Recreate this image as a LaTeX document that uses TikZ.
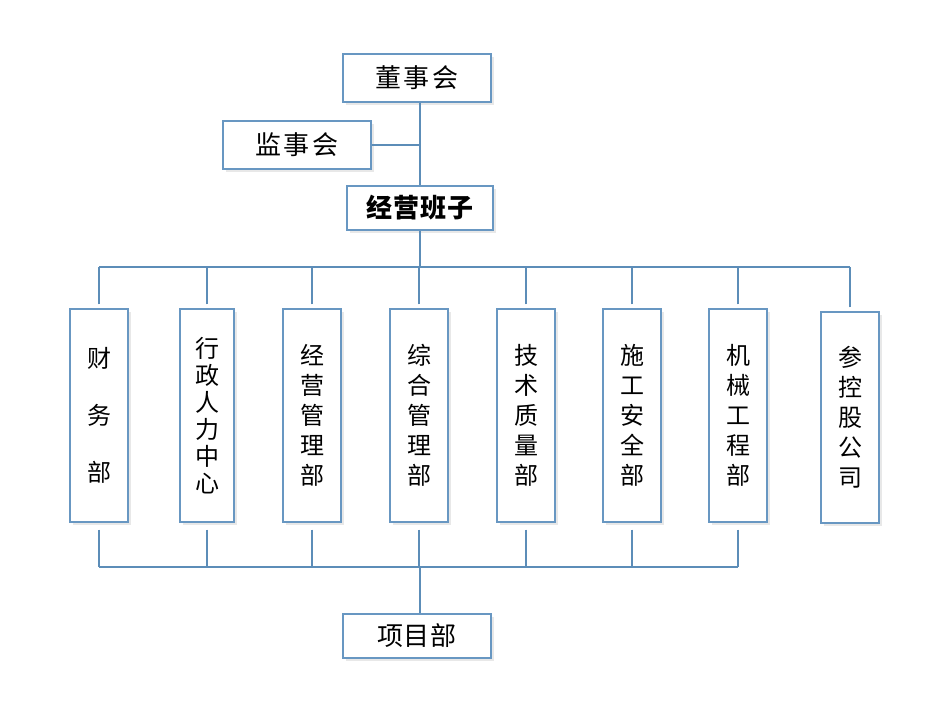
\documentclass[tikz,border=0pt]{standalone}
\usepackage{fontspec}
\newfontfamily\cjk{Noto Sans CJK SC}
\usetikzlibrary{shadows}
\definecolor{linec}{RGB}{92,141,184}
\definecolor{boxc}{RGB}{104,151,194}
\tikzset{
  conn/.style={draw=linec, line width=1.4pt},
  box/.style={draw=boxc, line width=1.2pt, fill=white, inner sep=0pt,
    drop shadow={opacity=0.15, shadow xshift=2.5pt, shadow yshift=-2.5pt, fill=black!60}},
  hbox/.style={box, font=\cjk\fontsize{26}{30}\selectfont},
  dept/.style={box, minimum width=58pt, minimum height=213pt, align=center},
}
\begin{document}
\begin{tikzpicture}[x=1pt,y=-1pt]
\useasboundingbox (0,0) rectangle (929,720);
% top boxes
\node[hbox, minimum width=148pt, minimum height=48pt] (dsh) at (417,78) {董\hspace{3pt}事\hspace{3pt}会};
\node[hbox, minimum width=148pt, minimum height=48pt] (jsh) at (297,145) {监\hspace{3pt}事\hspace{3pt}会};
\node[hbox, minimum width=146pt, minimum height=44pt] (jy) at (420,208) {\bfseries 经\hspace{1pt}营\hspace{1pt}班\hspace{1pt}子};
\node[hbox, minimum width=148pt, minimum height=44pt] (xm) at (417,636) {项\hspace{1pt}目\hspace{1pt}部};
% departments
\node[dept, font=\cjk\fontsize{24}{57}\selectfont] (d1) at (99,415.5) {财\\务\\部};
\node[dept, minimum width=54pt, font=\cjk\fontsize{24}{27}\selectfont] (d2) at (207,415.5) {行\\政\\人\\力\\中\\心};
\node[dept, font=\cjk\fontsize{24}{30}\selectfont] (d3) at (312,415.5) {经\\营\\管\\理\\部};
\node[dept, font=\cjk\fontsize{24}{30}\selectfont] (d4) at (419,415.5) {综\\合\\管\\理\\部};
\node[dept, font=\cjk\fontsize{24}{30}\selectfont] (d5) at (526,415.5) {技\\术\\质\\量\\部};
\node[dept, font=\cjk\fontsize{24}{30}\selectfont] (d6) at (632,415.5) {施\\工\\安\\全\\部};
\node[dept, font=\cjk\fontsize{24}{30}\selectfont] (d7) at (738,415.5) {机\\械\\工\\程\\部};
\node[dept, minimum height=211pt, font=\cjk\fontsize{24}{30}\selectfont] (d8) at (850,417.5) {参\\控\\股\\公\\司};
% helper coordinates
\coordinate (trunk) at (420,0);
\coordinate (bus) at (0,267);
\coordinate (lbus) at (0,567);
% connectors
\draw[conn] (dsh.south -| trunk) -- (jy.north -| trunk);
\draw[conn] (jsh.east) -- (jsh.east -| trunk);
\draw[conn] (jy.south -| trunk) -- (bus -| trunk);
\draw[conn] (d1.north |- bus) -- (d8.north |- bus);
\foreach \d in {d1,d2,d3,d4,d5,d6,d7,d8}{
  \draw[conn, shorten <=4pt] (\d.north) -- (\d.north |- bus);
}
\foreach \d in {d1,d2,d3,d4,d5,d6,d7}{
  \draw[conn, shorten <=7pt] (\d.south) -- (\d.south |- lbus);
}
\draw[conn] (d1.south |- lbus) -- (d7.south |- lbus);
\draw[conn] (lbus -| trunk) -- (xm.north -| trunk);
\end{tikzpicture}
\end{document}
